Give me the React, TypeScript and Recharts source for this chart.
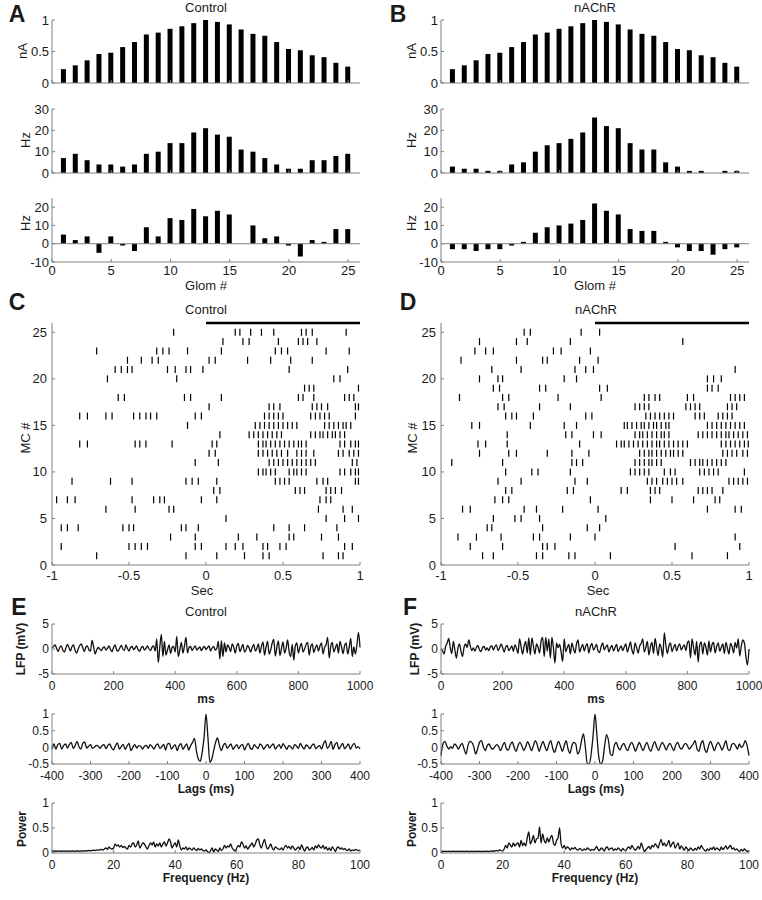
import React from "react";
import {
  BarChart,
  Bar,
  XAxis,
  YAxis,
  ReferenceLine,
  ScatterChart,
  Scatter,
  LineChart,
  Line,
} from "recharts";

const FONT = '"Liberation Sans", Arial, sans-serif';
const AXIS = "#808080";
const INK = "#1a1a1a";

// ---- A / B: glomerular input and MC rates ----
const glom = [1, 2, 3, 4, 5, 6, 7, 8, 9, 10, 11, 12, 13, 14, 15, 16, 17, 18, 19, 20, 21, 22, 23, 24, 25];
const currentControl = [0.22, 0.28, 0.36, 0.46, 0.48, 0.57, 0.65, 0.77, 0.8, 0.86, 0.9, 0.95, 1.0, 0.97, 0.93, 0.85, 0.78, 0.75, 0.65, 0.54, 0.52, 0.44, 0.41, 0.32, 0.26];
const currentNachr = [0.22, 0.28, 0.36, 0.46, 0.48, 0.57, 0.65, 0.77, 0.8, 0.86, 0.9, 0.95, 1.0, 0.97, 0.93, 0.85, 0.78, 0.75, 0.65, 0.54, 0.52, 0.44, 0.41, 0.32, 0.26];
const rateControl = [7, 9, 6, 4, 4, 3, 4, 9, 10, 14, 14, 19, 21, 18, 17, 11, 10, 7, 4, 2, 2, 6, 6, 8, 9];
const rateNachr = [3, 2, 2, 1, 1, 4, 5, 10, 13, 14, 16, 19, 26, 22, 21, 14, 11, 11, 5, 3, 1, 1, 0, 1, 1];
const diffControl = [5, 2, 4, -5, 4, -1, -4, 9, 4, 14, 13, 19, 15, 18, 16, 0, 10, 3, 4, -1, -7, 2, 1, 8, 8];
const diffNachr = [-3, -3, -4, -3, -3, -1, 1, 6, 9, 10, 11, 13, 22, 18, 16, 8, 7, 7, 1, -2, -4, -4, -6, -3, -2];

// ---- C / D: spike rasters, one list of spike times (s) per MC, MC 1 first ----
const rasterControl = [
  [-0.71, -0.13, 0.07, 0.25, 0.37, 0.41, 0.76, 0.86, 0.89],
  [-0.94, -0.5, -0.46, -0.42, -0.38, -0.07, -0.03, 0.13, 0.19, 0.24, 0.37, 0.4, 0.48, 0.52, 0.9, 0.95],
  [-0.23, -0.07, 0.21, 0.33, 0.54, 0.57, 0.75, 0.86],
  [-0.94, -0.9, -0.83, -0.54, -0.5, -0.47, -0.16, -0.13, -0.05, 0.44, 0.54, 0.64, 0.85],
  [0.13, 0.78, 0.9, 0.99],
  [-0.65, -0.46, -0.24, -0.21, 0.73, 0.89, 0.95],
  [-0.97, -0.9, -0.85, -0.48, -0.34, -0.3, -0.27, -0.03, 0.07, 0.74, 0.78, 0.81],
  [0.05, 0.09, 0.58, 0.61, 0.64, 0.78, 0.81, 0.84, 0.88],
  [-0.87, -0.62, -0.48, -0.13, -0.09, -0.05, 0.07, 0.45, 0.48, 0.51, 0.54, 0.72, 0.76, 0.79, 0.97, 0.99],
  [0.34, 0.37, 0.39, 0.42, 0.45, 0.54, 0.57, 0.59, 0.62, 0.65, 0.87, 0.9, 0.94, 0.97, 0.99],
  [-0.07, 0.08, 0.41, 0.44, 0.47, 0.5, 0.53, 0.56, 0.59, 0.62, 0.65, 0.68, 0.71, 0.95, 0.98],
  [0.02, 0.06, 0.34, 0.37, 0.4, 0.43, 0.46, 0.49, 0.53, 0.59, 0.62, 0.65, 0.7, 0.86, 0.89, 0.93, 0.96, 0.99],
  [-0.82, -0.77, -0.46, -0.43, -0.39, -0.22, 0.04, 0.07, 0.34, 0.37, 0.39, 0.42, 0.45, 0.48, 0.51, 0.54, 0.57, 0.6, 0.62, 0.65, 0.87, 0.9, 0.94, 0.97, 0.99],
  [0.09, 0.28, 0.31, 0.34, 0.37, 0.4, 0.43, 0.46, 0.49, 0.68, 0.71, 0.74, 0.76, 0.79, 0.82, 0.84, 0.87, 0.9],
  [-0.12, 0.32, 0.35, 0.38, 0.41, 0.44, 0.47, 0.5, 0.53, 0.56, 0.59, 0.77, 0.8, 0.83, 0.86, 0.89, 0.91, 0.94],
  [-0.82, -0.77, -0.65, -0.61, -0.47, -0.43, -0.39, -0.36, -0.32, -0.07, -0.03, 0.38, 0.41, 0.44, 0.47, 0.5, 0.68, 0.71, 0.74, 0.77, 0.8, 0.97],
  [0.02, 0.41, 0.44, 0.48, 0.69, 0.72, 0.75, 0.79, 0.97, 0.99],
  [-0.57, -0.53, -0.14, -0.1, 0.1, 0.6, 0.63, 0.7, 0.9, 0.93, 0.96],
  [0.64, 0.67, 0.7, 0.99],
  [-0.64, -0.19, 0.83, 0.87],
  [-0.59, -0.55, -0.51, -0.48, -0.25, -0.2, -0.13, -0.1, -0.02, 0.54, 0.92],
  [-0.51, -0.42, -0.35, -0.31, 0.02, 0.06, 0.27, 0.42, 0.55, 0.69],
  [-0.71, -0.32, -0.28, -0.24, -0.12, 0.1, 0.45, 0.49, 0.53, 0.78, 0.93],
  [0.11, 0.24, 0.28, 0.47, 0.6, 0.63, 0.66, 0.72],
  [-0.21, 0.19, 0.22, 0.29, 0.36, 0.44, 0.62, 0.65, 0.69, 0.91],
];

const rasterNachr = [
  [-0.73, -0.66, -0.38, -0.34, -0.17, -0.13, 0.1, 0.63, 0.86],
  [-0.81, -0.6, -0.34, -0.31, -0.26, 0.52, 0.94],
  [-0.89, -0.77, -0.61, -0.4, -0.36, -0.16, 0.0, 0.91],
  [-0.7, -0.67, -0.34, -0.05, 0.03],
  [-0.66, -0.52, -0.48, -0.36, 0.07],
  [-0.86, -0.81, -0.46, -0.38, -0.21, 0.02, 0.73, 0.91, 0.95],
  [-0.65, -0.6, -0.56, -0.03, 0.36, 0.5, 0.64, 0.78, 0.81],
  [-0.58, -0.54, -0.18, -0.14, 0.17, 0.21, 0.36, 0.39, 0.42, 0.67, 0.7, 0.73, 0.76, 0.83],
  [-0.63, -0.48, -0.13, -0.05, 0.34, 0.37, 0.4, 0.44, 0.47, 0.5, 0.53, 0.57, 0.87, 0.9, 0.93, 0.96, 0.99],
  [-0.58, -0.41, -0.37, -0.16, 0.23, 0.26, 0.29, 0.32, 0.35, 0.45, 0.49, 0.52, 0.68, 0.71, 0.74, 0.77, 0.8, 0.97],
  [-0.93, -0.6, -0.15, -0.12, -0.08, 0.26, 0.29, 0.32, 0.35, 0.37, 0.4, 0.43, 0.62, 0.65, 0.68, 0.7, 0.73, 0.76, 0.79, 0.82, 0.85],
  [-0.75, -0.56, -0.51, -0.31, -0.15, -0.04, 0.29, 0.32, 0.35, 0.37, 0.4, 0.43, 0.46, 0.49, 0.51, 0.54, 0.57, 0.83, 0.86, 0.89, 0.92, 0.96, 0.99],
  [-0.76, -0.71, -0.57, -0.1, 0.14, 0.17, 0.19, 0.22, 0.25, 0.28, 0.31, 0.34, 0.37, 0.4, 0.42, 0.45, 0.48, 0.51, 0.54, 0.57, 0.6, 0.82, 0.85, 0.88, 0.91, 0.94, 0.97, 0.995],
  [-0.57, -0.19, -0.15, -0.01, 0.04, 0.26, 0.29, 0.31, 0.34, 0.37, 0.4, 0.43, 0.45, 0.48, 0.67, 0.7, 0.73, 0.76, 0.79, 0.82, 0.85, 0.87, 0.9, 0.93, 0.96, 0.99],
  [-0.8, -0.75, -0.42, -0.2, -0.12, 0.19, 0.21, 0.24, 0.27, 0.3, 0.32, 0.35, 0.38, 0.4, 0.43, 0.46, 0.48, 0.73, 0.76, 0.79, 0.82, 0.85, 0.88, 0.91, 0.94, 0.97],
  [-0.58, -0.54, -0.51, -0.4, -0.06, -0.02, 0.33, 0.36, 0.39, 0.42, 0.45, 0.48, 0.51, 0.65, 0.68, 0.71, 0.8, 0.83, 0.86, 0.89],
  [-0.63, -0.59, -0.36, -0.16, 0.26, 0.29, 0.32, 0.35, 0.59, 0.62, 0.65, 0.68, 0.86, 0.89, 0.92],
  [-0.88, -0.6, -0.56, -0.24, 0.04, 0.32, 0.35, 0.39, 0.42, 0.6, 0.64, 0.88, 0.91, 0.94, 0.97],
  [-0.66, -0.62, -0.36, -0.32, 0.03, 0.08, 0.73, 0.76, 0.8],
  [-0.75, -0.63, -0.6, -0.2, -0.12, 0.73, 0.77, 0.82],
  [-0.67, -0.48, -0.13, -0.06, -0.01, 0.91],
  [-0.87, -0.51, -0.34, -0.31, -0.1, 0.02],
  [-0.78, -0.71, -0.66, -0.27, -0.22, -0.03],
  [-0.75, -0.51, -0.44, -0.16, 0.57],
  [-0.46, -0.42, -0.09, 0.03],
];

// ---- E / F: LFP (mV, every 5 ms from 0), autocorrelation (every 5 ms from -400), power (every 0.5 Hz from 0) ----
const lfpControl = [
  0.2, 0.5, 0.8, 0.1, -0.5, 0.3, 0.6, -0.2, -0.6, 0.2,
  0.9, 0.3, -0.4, 0.5, 0.8, -0.3, -0.8, 0.0, 0.7, 1.0,
  0.2, -0.5, 0.4, 0.6, -0.2, -0.4, 1.7, 0.5, -1.0, -0.2,
  0.3, 0.0, -0.3, 0.2, 0.4, -0.2, 0.1, 0.6, -0.1, -0.5,
  0.3, 0.8, -0.2, -0.4, 0.2, 0.7, 0.0, -0.3, 0.8, 0.1,
  -0.4, 0.3, 0.5, -0.1, 0.2, 0.6, -0.2, -0.4, 0.3, 0.5,
  -0.2, 0.1, 0.6, 0.0, -0.3, 0.4, 0.6, -0.4, 2.0, -2.7,
  0.4, 2.9, -1.5, 1.5, -1.2, -0.2, 0.8, -0.9, 0.3, 0.5,
  -0.6, 2.5, -1.5, -0.2, 1.3, -0.8, 0.6, 2.3, -0.8, 0.3,
  0.5, -0.3, 0.2, 0.6, -0.2, 0.1, 0.4, -0.3, 0.2, 0.5,
  -0.1, 0.3, 0.6, -0.4, 0.2, 0.5, -0.2, 0.1, 1.5, -2.0,
  1.6, -1.5, 1.2, -0.6, 0.8, 0.3, -0.5, 1.0, 0.4, -0.8,
  0.6, 1.1, -0.5, 0.2, 0.9, -0.6, -0.2, 0.7, 0.2, -0.6,
  0.3, 0.9, -0.4, 0.1, 1.0, -0.8, 0.5, 1.4, -1.2, 0.4,
  1.5, -1.0, -0.2, 1.2, 1.9, -1.4, 0.3, 1.6, -1.3, 0.1,
  1.4, -0.8, 0.2, 1.8, -0.6, -1.5, 0.9, -2.2, 0.6, 1.2,
  -0.8, 0.4, 1.1, -0.6, 0.0, 0.9, 1.3, -1.2, 0.5, 1.0,
  -0.7, 0.2, 0.8, -0.4, 0.6, 1.2, -1.0, 0.3, 0.9, 2.3,
  -1.8, 0.5, 1.3, -0.6, 0.2, 1.0, -0.8, 1.5, 0.4, -0.9,
  0.7, 1.2, -1.0, 0.3, 2.1, -1.5, 0.4, -1.0, 0.8, 3.3,
  0.3,
];

const lfpNachr = [
  0.0, -0.4, -1.0, 0.5, 1.2, 2.1, 0.3, -0.9, 1.5, -0.2,
  -1.8, 0.2, 1.0, -0.5, -1.5, 0.4, 1.0, 0.3, 1.8, 0.6,
  -0.3, 0.2, -0.4, 0.3, 0.7, -0.2, -0.5, 0.3, 0.5, -0.2,
  0.2, -0.3, 0.4, 0.6, -0.2, 0.5, 0.8, -0.3, 0.2, 1.0,
  0.3, -0.6, 0.4, 0.7, -0.3, 0.1, 0.6, -0.5, 0.8, 0.2,
  -0.9, 2.0, 0.5, -1.0, 0.6, 1.5, -0.8, 2.2, -1.2, 2.2,
  0.6, -1.0, 1.0, 0.4, -0.8, 1.6, 2.3, -1.5, 2.3, -0.4,
  2.0, -1.8, 2.3, 0.2, -2.8, 1.2, 0.3, 0.9, -0.6, -2.5,
  2.0, -0.5, 0.3, 0.9, -1.0, 1.2, 0.1, -0.8, 1.0, 1.8,
  -0.6, 0.2, 0.9, -0.4, 0.6, 1.0, -0.8, 0.5, 1.1, -0.2,
  0.3, 0.9, -0.4, -0.7, 0.5, 1.2, -0.2, 0.4, 0.8, -0.6,
  0.2, 0.7, -0.4, 0.3, 0.9, -0.5, 0.1, 0.6, -0.3, 0.4,
  1.0, -0.6, 0.3, 1.4, -0.2, -1.0, 1.2, 0.3, -0.8, 0.6,
  1.1, 2.0, -0.6, 0.3, 1.5, -1.2, 0.5, 1.3, -0.9, 2.1,
  0.4, -1.3, 1.0, 0.2, -1.6, 3.2, 0.8, -0.9, 0.6, 1.2,
  -0.5, 0.3, 0.9, -0.4, 0.5, 1.0, -0.2, 0.4, 0.8, -0.3,
  1.2, 1.6, -1.8, 2.0, 0.3, -1.2, 1.5, -2.6, 0.8, 1.4,
  -1.0, 1.2, 0.4, -1.2, 1.6, -0.6, 0.9, 1.3, -0.8, 0.5,
  1.2, -0.4, 0.3, 1.0, -0.9, 1.3, 0.2, -1.0, 1.1, 0.5,
  -0.8, 1.3, 0.2, 2.0, -1.4, 0.6, 1.8, 1.2, -1.5, -3.2,
  0.0,
];

const acfControl = [
  -0.05, 0.1, -0.05, 0.08, 0.12, -0.05, 0.05, 0.1, -0.02, 0.08,
  0.15, -0.03, 0.05, 0.18, 0.02, -0.05, 0.12, 0.16, -0.02, 0.03,
  0.08, -0.03, 0.0, 0.06, 0.04, -0.03, 0.05, 0.08, -0.04, 0.06,
  0.1, -0.02, -0.08, 0.05, 0.13, -0.05, 0.02, 0.09, -0.06, 0.04,
  0.12, -0.1, 0.0, 0.08, -0.02, 0.05, 0.04, -0.05, 0.03, 0.06,
  -0.03, 0.08, 0.02, -0.05, 0.06, 0.1, -0.03, 0.02, 0.09, -0.08,
  0.1, 0.12, -0.05, 0.02, 0.08, -0.1, 0.05, 0.11, -0.06, 0.03,
  0.1, -0.08, 0.05, 0.15, 0.27, -0.1, -0.35, -0.42, -0.15, 0.3,
  1.0, 0.3, -0.45, -0.35, -0.1, 0.15, 0.28, 0.05, -0.1, 0.06,
  0.12, -0.03, 0.04, 0.1, -0.06, 0.02, 0.08, -0.04, 0.05, 0.09,
  -0.08, 0.04, 0.12, -0.02, -0.06, 0.08, 0.02, -0.04, 0.1, 0.05,
  -0.05, 0.03, 0.09, -0.02, 0.05, 0.1, -0.05, 0.02, 0.08, -0.03,
  0.11, 0.03, -0.06, 0.05, 0.02, -0.05, 0.08, 0.04, -0.03, 0.12,
  0.02, -0.05, 0.07, 0.03, -0.04, 0.06, 0.1, -0.04, 0.02, 0.05,
  -0.05, 0.1, 0.2, -0.03, 0.04, 0.18, -0.06, 0.08, 0.15, -0.05,
  0.03, 0.12, -0.04, 0.02, 0.1, -0.06, 0.05, 0.12, -0.02, 0.02,
  -0.05,
];

const acfNachr = [
  -0.25, 0.1, 0.18, 0.05, -0.05, 0.02, -0.03, 0.1, 0.05, -0.05,
  0.05, 0.12, -0.05, -0.2, 0.05, 0.18, 0.15, 0.02, -0.2, -0.05,
  0.15, 0.2, 0.02, -0.1, 0.05, 0.1, -0.02, -0.05, 0.02, 0.08,
  0.02, -0.1, 0.05, 0.15, -0.05, -0.08, 0.08, 0.16, 0.0, -0.12,
  0.05, 0.15, 0.05, -0.1, 0.02, 0.17, 0.05, -0.1, 0.05, 0.2,
  0.08, -0.12, 0.05, 0.18, 0.02, -0.1, 0.08, 0.2, -0.02, -0.15,
  0.02, 0.18, 0.05, -0.12, 0.05, 0.2, -0.05, -0.18, 0.05, 0.15,
  0.1, -0.2, -0.1, 0.2, 0.4, 0.0, -0.5, -0.5, -0.2, 0.35,
  1.0, 0.35, -0.3, -0.5, -0.4, 0.05, 0.38, 0.2, -0.2, -0.25,
  0.05, 0.15, 0.0, -0.08, 0.05, 0.12, -0.02, -0.1, 0.05, 0.15,
  0.05, -0.12, 0.02, 0.15, 0.02, -0.1, 0.05, 0.15, -0.02, -0.12,
  0.05, 0.17, 0.02, -0.1, 0.05, 0.15, 0.05, -0.08, 0.05, 0.12,
  0.0, -0.1, 0.08, 0.15, 0.0, -0.05, 0.05, 0.12, 0.05, -0.05,
  0.02, 0.1, 0.2, -0.05, -0.12, 0.1, 0.2, -0.05, -0.15, 0.05,
  0.18, 0.05, -0.1, 0.05, 0.15, 0.05, -0.08, 0.05, 0.2, -0.05,
  -0.1, 0.08, 0.12, 0.05, -0.05, 0.1, 0.0, 0.05, 0.2, 0.05,
  -0.25,
];

const powerControl = [
  0.04, 0.04, 0.035, 0.035, 0.04, 0.035, 0.035, 0.04, 0.035, 0.04,
  0.035, 0.04, 0.035, 0.04, 0.04, 0.035, 0.04, 0.04, 0.035, 0.04,
  0.04, 0.045, 0.04, 0.045, 0.05, 0.045, 0.05, 0.055, 0.05, 0.06,
  0.055, 0.065, 0.07, 0.06, 0.08, 0.1, 0.07, 0.12, 0.09, 0.08,
  0.1, 0.18, 0.14, 0.16, 0.12, 0.15, 0.11, 0.13, 0.1, 0.08,
  0.15, 0.12, 0.18, 0.2, 0.12, 0.16, 0.24, 0.1, 0.15, 0.2,
  0.18, 0.12, 0.08, 0.15, 0.2, 0.16, 0.22, 0.12, 0.18, 0.14,
  0.2, 0.12, 0.18, 0.22, 0.14, 0.2, 0.28, 0.22, 0.1, 0.16,
  0.2, 0.12, 0.26, 0.14, 0.06, 0.1, 0.08, 0.12, 0.06, 0.1,
  0.08, 0.06, 0.1, 0.07, 0.05, 0.09, 0.06, 0.08, 0.05, 0.04,
  0.06, 0.03, 0.0, 0.05, 0.1, 0.02, 0.08, 0.06, 0.03, 0.1,
  0.05, 0.08, 0.15, 0.1, 0.14, 0.12, 0.18, 0.1, 0.06, 0.04,
  0.1, 0.15, 0.12, 0.22, 0.18, 0.1, 0.14, 0.08, 0.12, 0.16,
  0.2, 0.12, 0.18, 0.26, 0.28, 0.16, 0.1, 0.2, 0.27, 0.15,
  0.08, 0.12, 0.18, 0.1, 0.06, 0.12, 0.1, 0.08, 0.07, 0.1,
  0.06, 0.12, 0.15, 0.1, 0.13, 0.08, 0.14, 0.1, 0.06, 0.09,
  0.12, 0.07, 0.16, 0.1, 0.04, 0.1, 0.12, 0.06, 0.08, 0.11,
  0.06, 0.14, 0.1, 0.16, 0.12, 0.1, 0.15, 0.08, 0.12, 0.06,
  0.1, 0.05, 0.12, 0.08, 0.03, 0.1, 0.12, 0.08, 0.1, 0.07,
  0.09, 0.06, 0.05, 0.08, 0.04, 0.06, 0.05, 0.07, 0.06, 0.05,
  0.06,
];

const powerNachr = [
  0.03, 0.03, 0.035, 0.03, 0.03, 0.035, 0.03, 0.03, 0.035, 0.03,
  0.03, 0.035, 0.03, 0.03, 0.035, 0.03, 0.03, 0.035, 0.03, 0.03,
  0.035, 0.03, 0.03, 0.035, 0.03, 0.035, 0.03, 0.03, 0.035, 0.03,
  0.035, 0.03, 0.035, 0.04, 0.035, 0.04, 0.05, 0.04, 0.06, 0.05,
  0.04, 0.08, 0.15, 0.1, 0.2, 0.16, 0.12, 0.2, 0.14, 0.18,
  0.2, 0.12, 0.25, 0.15, 0.2, 0.14, 0.3, 0.42, 0.18, 0.25,
  0.35, 0.2, 0.28, 0.3, 0.52, 0.2, 0.38, 0.25, 0.2, 0.3,
  0.22, 0.3, 0.35, 0.2, 0.15, 0.25, 0.3, 0.5, 0.18, 0.1,
  0.15, 0.08, 0.12, 0.1, 0.06, 0.1, 0.08, 0.11, 0.07, 0.06,
  0.09, 0.07, 0.05, 0.08, 0.06, 0.1, 0.08, 0.05, 0.07, 0.06,
  0.08, 0.13, 0.07, 0.05, 0.1, 0.08, 0.04, 0.1, 0.12, 0.06,
  0.09, 0.1, 0.05, 0.08, 0.06, 0.1, 0.07, 0.04, 0.09, 0.06,
  0.05, 0.1, 0.12, 0.08, 0.15, 0.1, 0.06, 0.08, 0.13, 0.08,
  0.2, 0.12, 0.03, 0.06, 0.1, 0.13, 0.08, 0.15, 0.12, 0.18,
  0.15, 0.1, 0.2, 0.27, 0.15, 0.2, 0.14, 0.18, 0.25, 0.12,
  0.18, 0.22, 0.1, 0.15, 0.2, 0.08, 0.14, 0.1, 0.06, 0.12,
  0.08, 0.05, 0.1, 0.07, 0.05, 0.09, 0.06, 0.12, 0.08, 0.15,
  0.1, 0.06, 0.04, 0.08, 0.05, 0.1, 0.07, 0.12, 0.06, 0.1,
  0.08, 0.05, 0.12, 0.07, 0.1, 0.14, 0.08, 0.12, 0.15, 0.08,
  0.1, 0.06, 0.08, 0.05, 0.03, 0.07, 0.04, 0.08, 0.05, 0.03,
  0.05,
];

// layout helpers: plot rect in page px -> chart box
const YW = 40;
const XH = 22;
const PT = 8;
const PR = 18;

function frame(x0: number, y0: number, x1: number, y1: number) {
  return {
    style: { position: "absolute" as const, left: x0 - YW, top: y0 - PT },
    width: x1 - x0 + YW + PR,
    height: y1 - y0 + PT + XH,
    margin: { top: PT, right: PR, left: 0, bottom: 0 },
  };
}

const axisLine = { stroke: AXIS, strokeWidth: 1 };

// matlab-like ticks: short inward mark + label (tickSize is 1)
function xTick(margin: number, show: boolean, size: number) {
  return (p: any) => {
    const ay = p.y - 1 - margin;
    return (
      <g>
        <line x1={p.x} x2={p.x} y1={ay} y2={ay - 3} stroke={AXIS} />
        {show && (
          <text x={p.x} y={p.y} dy="0.71em" textAnchor="middle" fontSize={size} fill={INK} fontFamily={FONT}>
            {p.payload.value}
          </text>
        )}
      </g>
    );
  };
}

function yTick(size: number, margin = 2) {
  return (p: any) => {
    const ax = p.x + 1 + margin;
    return (
      <g>
        <line x1={ax} x2={ax + 3} y1={p.y} y2={p.y} stroke={AXIS} />
        <text x={p.x} y={p.y} dy="0.35em" textAnchor="end" fontSize={size} fill={INK} fontFamily={FONT}>
          {p.payload.value}
        </text>
      </g>
    );
  };
}

function GlomBars({ x0, y0, x1, y1, values, domain, ticks, showX = false, zero = false }: any) {
  const f = frame(x0, y0, x1, y1);
  const data = glom.map((g, i) => ({ g, v: values[i] }));
  return (
    <div style={f.style}>
      <BarChart width={f.width} height={f.height} data={data} margin={f.margin}>
        <XAxis
          type="number"
          dataKey="g"
          domain={[0, 26]}
          ticks={[0, 5, 10, 15, 20, 25]}
          interval={0}
          height={XH}
          tick={xTick(3, showX, 13)}
          tickLine={false}
          tickSize={1}
          tickMargin={3}
          axisLine={axisLine}
        />
        <YAxis
          type="number"
          domain={domain}
          ticks={ticks}
          interval={0}
          width={YW}
          tick={yTick(13)}
          tickLine={false}
          tickSize={1}
          tickMargin={2}
          axisLine={axisLine}
        />
        {zero && <ReferenceLine y={0} stroke={AXIS} />}
        <Bar dataKey="v" fill="#000" barSize={5} isAnimationActive={false} />
      </BarChart>
    </div>
  );
}

function SpikeTick(props: any) {
  const { cx, cy } = props;
  return <line x1={cx} x2={cx} y1={cy - 3.5} y2={cy + 3.5} stroke="#000" strokeWidth={1.2} />;
}

function Raster({ x0, y0, x1, y1, rows }: any) {
  const f = frame(x0, y0, x1, y1);
  const data = rows.flatMap((ts: number[], i: number) => ts.map((t) => ({ t, r: i + 1 })));
  return (
    <div style={f.style}>
      <ScatterChart width={f.width} height={f.height} margin={f.margin}>
        <XAxis
          type="number"
          dataKey="t"
          domain={[-1, 1]}
          ticks={[-1, -0.5, 0, 0.5, 1]}
          interval={0}
          height={XH}
          tick={xTick(5, true, 13)}
          tickLine={false}
          tickSize={1}
          tickMargin={5}
          axisLine={axisLine}
        />
        <YAxis
          type="number"
          dataKey="r"
          domain={[0, 26]}
          ticks={[0, 5, 10, 15, 20, 25]}
          interval={0}
          width={YW}
          tick={yTick(13, 4)}
          tickLine={false}
          tickSize={1}
          tickMargin={4}
          axisLine={axisLine}
        />
        <ReferenceLine
          segment={[{ x: 0, y: 26 }, { x: 1, y: 26 }]}
          stroke="#000"
          strokeWidth={2.5}
          ifOverflow="visible"
        />
        <Scatter data={data} shape={SpikeTick} isAnimationActive={false} />
      </ScatterChart>
    </div>
  );
}

function Trace({ x0, y0, x1, y1, values, start, step, xDomain, xTicks, yDomain, yTicks }: any) {
  const f = frame(x0, y0, x1, y1);
  const data = values.map((v: number, i: number) => ({ x: start + i * step, v }));
  return (
    <div style={f.style}>
      <LineChart width={f.width} height={f.height} data={data} margin={f.margin}>
        <XAxis
          type="number"
          dataKey="x"
          domain={xDomain}
          ticks={xTicks}
          interval={0}
          height={XH}
          tick={xTick(6, true, 12)}
          tickLine={false}
          tickSize={1}
          tickMargin={6}
          axisLine={axisLine}
        />
        <YAxis
          type="number"
          domain={yDomain}
          ticks={yTicks}
          interval={0}
          allowDataOverflow
          width={YW}
          tick={yTick(12)}
          tickLine={false}
          tickSize={1}
          tickMargin={2}
          axisLine={axisLine}
        />
        <Line
          type="monotone"
          dataKey="v"
          stroke="#111"
          strokeWidth={1.3}
          dot={false}
          isAnimationActive={false}
        />
      </LineChart>
    </div>
  );
}

function T({ x, y, children, size = 13, bold = false, rot = false }: any) {
  return (
    <div
      style={{
        position: "absolute",
        left: x,
        top: y,
        transform: `translate(-50%, -50%)${rot ? " rotate(-90deg)" : ""}`,
        fontFamily: FONT,
        fontSize: size,
        fontWeight: bold ? "bold" : "normal",
        lineHeight: 1,
        whiteSpace: "nowrap",
        color: INK,
      }}
    >
      {children}
    </div>
  );
}

const lfpProps = { start: 0, step: 5, xDomain: [0, 1000], xTicks: [0, 200, 400, 600, 800, 1000], yDomain: [-5, 5], yTicks: [-5, 0, 5] };
const acfProps = { start: -400, step: 5, xDomain: [-400, 400], xTicks: [-400, -300, -200, -100, 0, 100, 200, 300, 400], yDomain: [-0.5, 1], yTicks: [-0.5, 0, 0.5, 1] };
const powProps = { start: 0, step: 0.5, xDomain: [0, 100], xTicks: [0, 20, 40, 60, 80, 100], yDomain: [0, 1], yTicks: [0, 0.5, 1] };

export default function App() {
  const L = { x0: 52, x1: 360 };
  const R = { x0: 441, x1: 749 };
  return (
    <div style={{ position: "absolute", left: 0, top: 0, width: 762, height: 900, background: "#fff", overflow: "hidden" }}>
      {/* A / B */}
      <GlomBars {...L} y0={20} y1={83} values={currentControl} domain={[0, 1]} ticks={[0, 0.5, 1]} />
      <GlomBars {...L} y0={109} y1={173} values={rateControl} domain={[0, 30]} ticks={[0, 10, 20, 30]} />
      <GlomBars {...L} y0={198} y1={262} values={diffControl} domain={[-10, 25]} ticks={[-10, 0, 10, 20]} showX zero />
      <GlomBars {...R} y0={20} y1={83} values={currentNachr} domain={[0, 1]} ticks={[0, 0.5, 1]} />
      <GlomBars {...R} y0={109} y1={173} values={rateNachr} domain={[0, 30]} ticks={[0, 10, 20, 30]} />
      <GlomBars {...R} y0={198} y1={262} values={diffNachr} domain={[-10, 25]} ticks={[-10, 0, 10, 20]} showX zero />

      {/* C / D */}
      <Raster {...L} y0={323} y1={565} rows={rasterControl} />
      <Raster {...R} y0={323} y1={565} rows={rasterNachr} />

      {/* E / F */}
      <Trace {...L} y0={624} y1={674} values={lfpControl} {...lfpProps} />
      <Trace {...L} y0={714} y1={764} values={acfControl} {...acfProps} />
      <Trace {...L} y0={803} y1={853} values={powerControl} {...powProps} />
      <Trace {...R} y0={624} y1={674} values={lfpNachr} {...lfpProps} />
      <Trace {...R} y0={714} y1={764} values={acfNachr} {...acfProps} />
      <Trace {...R} y0={803} y1={853} values={powerNachr} {...powProps} />

      {/* panel letters */}
      <T x={17} y={14} size={23} bold>A</T>
      <T x={398} y={14} size={23} bold>B</T>
      <T x={17} y={302} size={23} bold>C</T>
      <T x={408} y={302} size={23} bold>D</T>
      <T x={19} y={607} size={23} bold>E</T>
      <T x={410} y={607} size={23} bold>F</T>

      {/* titles */}
      <T x={206} y={7}>Control</T>
      <T x={595} y={7}>nAChR</T>
      <T x={206} y={309}>Control</T>
      <T x={596} y={309}>nAChR</T>
      <T x={206} y={611}>Control</T>
      <T x={596} y={611}>nAChR</T>

      {/* axis labels A / B */}
      <T x={22} y={51} rot>nA</T>
      <T x={25} y={140} rot>Hz</T>
      <T x={25} y={223} rot>Hz</T>
      <T x={206} y={285}>Glom #</T>
      <T x={411} y={51} rot>nA</T>
      <T x={411} y={140} rot>Hz</T>
      <T x={411} y={223} rot>Hz</T>
      <T x={595} y={285}>Glom #</T>

      {/* axis labels C / D */}
      <T x={25} y={438} rot>MC #</T>
      <T x={202} y={590}>Sec</T>
      <T x={412} y={438} rot>MC #</T>
      <T x={598} y={590}>Sec</T>

      {/* axis labels E / F */}
      <T x={21} y={649} size={12} bold rot>LFP (mV)</T>
      <T x={206} y={699} size={12} bold>ms</T>
      <T x={206} y={789} size={12} bold>Lags (ms)</T>
      <T x={22} y={829} size={12} bold rot>Power</T>
      <T x={206} y={878} size={12} bold>Frequency (Hz)</T>
      <T x={415} y={649} size={12} bold rot>LFP (mV)</T>
      <T x={596} y={699} size={12} bold>ms</T>
      <T x={596} y={789} size={12} bold>Lags (ms)</T>
      <T x={412} y={829} size={12} bold rot>Power</T>
      <T x={595} y={878} size={12} bold>Frequency (Hz)</T>
    </div>
  );
}
